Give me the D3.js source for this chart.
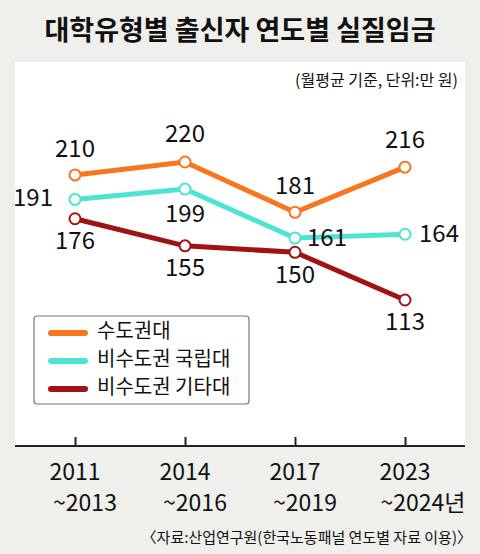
<!DOCTYPE html>
<html><head><meta charset="utf-8">
<script src="https://cdn.jsdelivr.net/npm/d3@7"></script>
<style>body{margin:0;background:#efefeb;}text{font-family:"Noto Sans CJK KR","Liberation Sans",sans-serif;}</style>
</head><body><svg id="c" width="480" height="554"></svg>
<script>
var periods = ["2011\n~2013", "2014\n~2016", "2017\n~2019", "2023\n~2024년"];
var seriesNames = ["수도권대", "비수도권 국립대", "비수도권 기타대"];
var seriesColors = ["#f7761f", "#4ee3d2", "#a11212"];
var metro = [210, 220, 181, 216];
var national = [191, 199, 161, 164];
var other = [176, 155, 150, 113];
var allSeries = [metro, national, other];
// label offsets per point: [dx, dy]
var labelPos = [
  [[0,-24],[0,-27],[0,-25],[0,-26]],
  [[-42,0],[0,26],[32,1],[34,1]],
  [[0,24],[0,24],[0,24],[0,23]]
];

var svg = d3.select("#c");
svg.append("text").attr("x", 240).attr("y", 40).attr("text-anchor", "middle")
  .attr("font-size", 27).attr("font-weight", "bold").attr("fill", "#111")
  .text("대학유형별 출신자 연도별 실질임금");
svg.append("rect").attr("x", 15).attr("y", 62).attr("width", 450).attr("height", 384).attr("fill", "#fff");
svg.append("text").attr("x", 458).attr("y", 86).attr("text-anchor", "end")
  .attr("font-size", 16).attr("fill", "#111").text("(월평균 기준, 단위:만 원)");

var x = d3.scalePoint().domain(d3.range(periods.length)).range([75, 405]);
var y = d3.scaleLinear().domain([113, 220]).range([300, 162]);

var axis = svg.append("g").attr("transform", "translate(0,446)")
  .call(d3.axisBottom(x).tickSize(-9).tickFormat(""));
axis.select(".domain").attr("stroke", "#222").attr("stroke-width", 2).attr("d", "M15,0H465");
axis.selectAll(".tick line").attr("stroke", "#222").attr("stroke-width", 2);

periods.forEach(function(p, i) {
  var t = svg.append("text").attr("text-anchor", "middle")
    .attr("font-size", 23).attr("fill", "#111").attr("font-family", "Liberation Sans");
  p.split("\n").forEach(function(s, j) {
    t.append("tspan").attr("x", x(i) + (j == 1 ? 10 + (i == 3 ? 8 : 0) : 0)).attr("y", 480 + j * 31).text(s);
  });
});

var line = d3.line().x(function(d, i) { return x(i); }).y(function(d) { return y(d); });
allSeries.forEach(function(s, k) {
  svg.append("path").datum(s).attr("d", line).attr("fill", "none")
    .attr("stroke", seriesColors[k]).attr("stroke-width", 5);
});
allSeries.forEach(function(s, k) {
  s.forEach(function(v, i) {
    svg.append("circle").attr("cx", x(i)).attr("cy", y(v)).attr("r", 5.5)
      .attr("fill", "#fff").attr("stroke", seriesColors[k]).attr("stroke-width", 2);
    svg.append("text").attr("x", x(i) + labelPos[k][i][0]).attr("y", y(v) + labelPos[k][i][1])
      .attr("text-anchor", "middle").attr("dominant-baseline", "middle")
      .attr("font-size", 24).attr("fill", "#111").attr("font-family", "Liberation Sans")
      .text(v);
  });
});

var lg = svg.append("g");
lg.append("rect").attr("x", 34).attr("y", 316).attr("width", 215).attr("height", 88).attr("rx", 3)
  .attr("fill", "#fff").attr("stroke", "#777").attr("stroke-width", 1.2);
seriesNames.forEach(function(n, k) {
  var yy = 333 + k * 28;
  lg.append("line").attr("x1", 51).attr("x2", 85).attr("y1", yy).attr("y2", yy)
    .attr("stroke", seriesColors[k]).attr("stroke-width", 6).attr("stroke-linecap", "round");
  lg.append("text").attr("x", 97).attr("y", yy).attr("dominant-baseline", "middle")
    .attr("font-size", 20).attr("fill", "#111").text(n);
});

svg.append("text").attr("x", 472).attr("y", 543).attr("text-anchor", "end")
  .attr("font-size", 15).attr("fill", "#111").text("〈자료:산업연구원(한국노동패널 연도별 자료 이용)〉");
</script></body></html>
